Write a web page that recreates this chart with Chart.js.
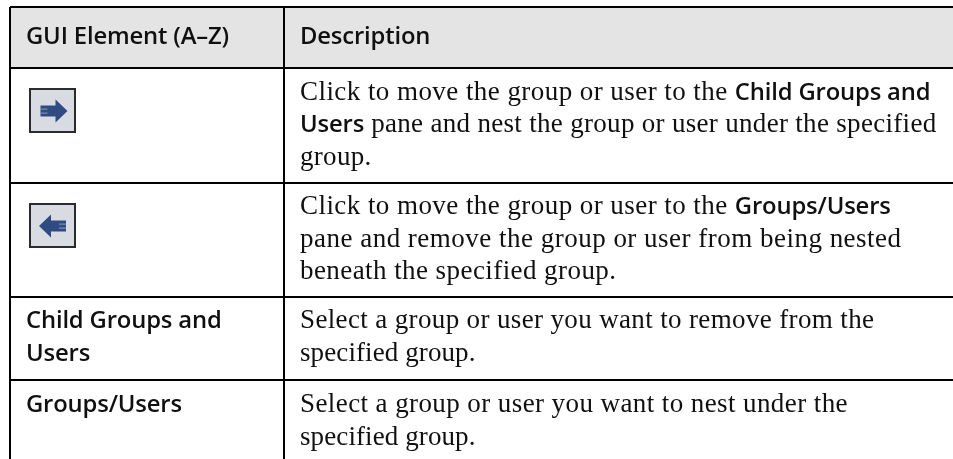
<!DOCTYPE html>
<html>
<head>
<meta charset="utf-8">
<style>
  html, body { margin: 0; padding: 0; background: #fff; }
  #wrap { width: 953px; height: 459px; }
</style>
<script src="https://cdn.jsdelivr.net/npm/chart.js@4"></script>
</head>
<body>
<div id="wrap"><canvas id="chart"></canvas></div>
<script>
// table rules, in page pixels
const columnRules = [10, 284];
const rowRules = [7, 68, 183, 297, 380];

// icon buttons: centre of each one and its arrow direction
const iconPoints = [{ x: 52.5, y: 110.5 }, { x: 52.5, y: 225.5 }];
const iconDirections = [1, -1];

const headerLabels = ['GUI Element (A–Z)', 'Description'];
const headerBaseline = 44;

const leftLabels = ['Child Groups and', 'Users', 'Groups/Users'];
const leftBaselines = [328, 361, 412];

// each line is a list of [text, bold] runs
const descriptionLines = [
    [['Click to move the group or user to the ', 0], ['Child Groups and', 1]],
    [['Users', 1], [' pane and nest the group or user under the specified', 0]],
    [['group.', 0]],
    [['Click to move the group or user to the ', 0], ['Groups/Users', 1]],
    [['pane and remove the group or user from being nested', 0]],
    [['beneath the specified group.', 0]],
    [['Select a group or user you want to remove from the', 0]],
    [['specified group.', 0]],
    [['Select a group or user you want to nest under the', 0]],
    [['specified group.', 0]]
];
const descriptionBaselines = [100, 132, 165, 214, 247, 279, 328, 361, 412, 445];
// letter spacing per line, the serif here is not quite the same width as the original
const descriptionSpacing = [0.44, 0.31, 0.3, 0.44, 0.49, 0.43, 0.36, 0.1, 0.41, 0.1];

const leftX = 26;
const rightX = 300;
const boldFont = '600 23.8px "Open Sans"';
const bodyFont = '27px "Liberation Serif"';
const boldSpacing = '-0.15px';
const inkColor = '#101010';

function makeIcon(dir) {
    const c = document.createElement('canvas');
    c.width = 47;
    c.height = 45;
    const g = c.getContext('2d');
    g.fillStyle = '#2b2b2b';
    g.fillRect(0, 0, 47, 45);
    g.fillStyle = '#d8dce2';
    g.fillRect(2, 2, 43, 41);
    g.translate(dir > 0 ? 23.5 : 25, 23);
    g.scale(dir, 1);
    g.fillStyle = '#2f4b82';
    g.beginPath();
    g.moveTo(15, 0);
    g.lineTo(3, -11.5);
    g.lineTo(3, -5.5);
    g.lineTo(-12, -5.5);
    g.lineTo(-12, 5.5);
    g.lineTo(3, 5.5);
    g.lineTo(3, 11.5);
    g.closePath();
    g.fill();
    g.fillStyle = '#8f9db8';
    g.fillRect(-12, -2.4, 7, 1);
    g.fillRect(-12, 1.6, 7, 1);
    return c;
}

const tablePlugin = {
    id: 'tablePlugin',
    beforeDraw(chart) {
        const { ctx, scales: { x, y } } = chart;
        ctx.save();
        ctx.fillStyle = '#e4e4e4';
        ctx.fillRect(x.getPixelForValue(columnRules[0]), y.getPixelForValue(rowRules[0]),
            x.right - x.getPixelForValue(columnRules[0]), y.getPixelForValue(rowRules[1]) - y.getPixelForValue(rowRules[0]));
        ctx.restore();
    },
    afterDatasetsDraw(chart) {
        const { ctx, scales: { x, y } } = chart;
        ctx.save();
        ctx.fillStyle = inkColor;
        ctx.textBaseline = 'alphabetic';
        ctx.font = boldFont;
        ctx.letterSpacing = boldSpacing;
        ctx.fillText(headerLabels[0], x.getPixelForValue(leftX), y.getPixelForValue(headerBaseline));
        ctx.fillText(headerLabels[1], x.getPixelForValue(rightX), y.getPixelForValue(headerBaseline));
        leftLabels.forEach((label, i) => {
            ctx.fillText(label, x.getPixelForValue(leftX), y.getPixelForValue(leftBaselines[i]));
        });
        descriptionLines.forEach((runs, i) => {
            let px = x.getPixelForValue(rightX);
            runs.forEach(([text, bold]) => {
                ctx.font = bold ? boldFont : bodyFont;
                ctx.letterSpacing = bold ? boldSpacing : descriptionSpacing[i] + 'px';
                ctx.fillText(text, px, y.getPixelForValue(descriptionBaselines[i]));
                px += ctx.measureText(text).width;
            });
        });
        ctx.restore();
    }
};

const ruleGrid = {
    color: '#000',
    lineWidth: 2,
    drawTicks: false,
    tickLength: 0
};

new Chart(document.getElementById('chart'), {
    type: 'scatter',
    data: {
        datasets: [{
            data: iconPoints,
            pointStyle: iconDirections.map(makeIcon),
            pointRadius: 24,
            pointHoverRadius: 24
        }]
    },
    options: {
        responsive: true,
        maintainAspectRatio: false,
        animation: false,
        // the scales start where the table starts, so the rules stop there too
        layout: { padding: { left: columnRules[0], top: rowRules[0] }, autoPadding: false },
        plugins: { legend: { display: false }, tooltip: { enabled: false } },
        scales: {
            x: {
                type: 'linear',
                min: columnRules[0],
                max: 953,
                grid: ruleGrid,
                border: { display: false },
                afterBuildTicks: axis => { axis.ticks = columnRules.map(value => ({ value })); },
                ticks: { display: false }
            },
            y: {
                type: 'linear',
                reverse: true,
                min: rowRules[0],
                max: 459,
                grid: ruleGrid,
                border: { display: false },
                afterBuildTicks: axis => { axis.ticks = rowRules.map(value => ({ value })); },
                ticks: { display: false }
            }
        }
    },
    plugins: [tablePlugin]
});
</script>
</body>
</html>
